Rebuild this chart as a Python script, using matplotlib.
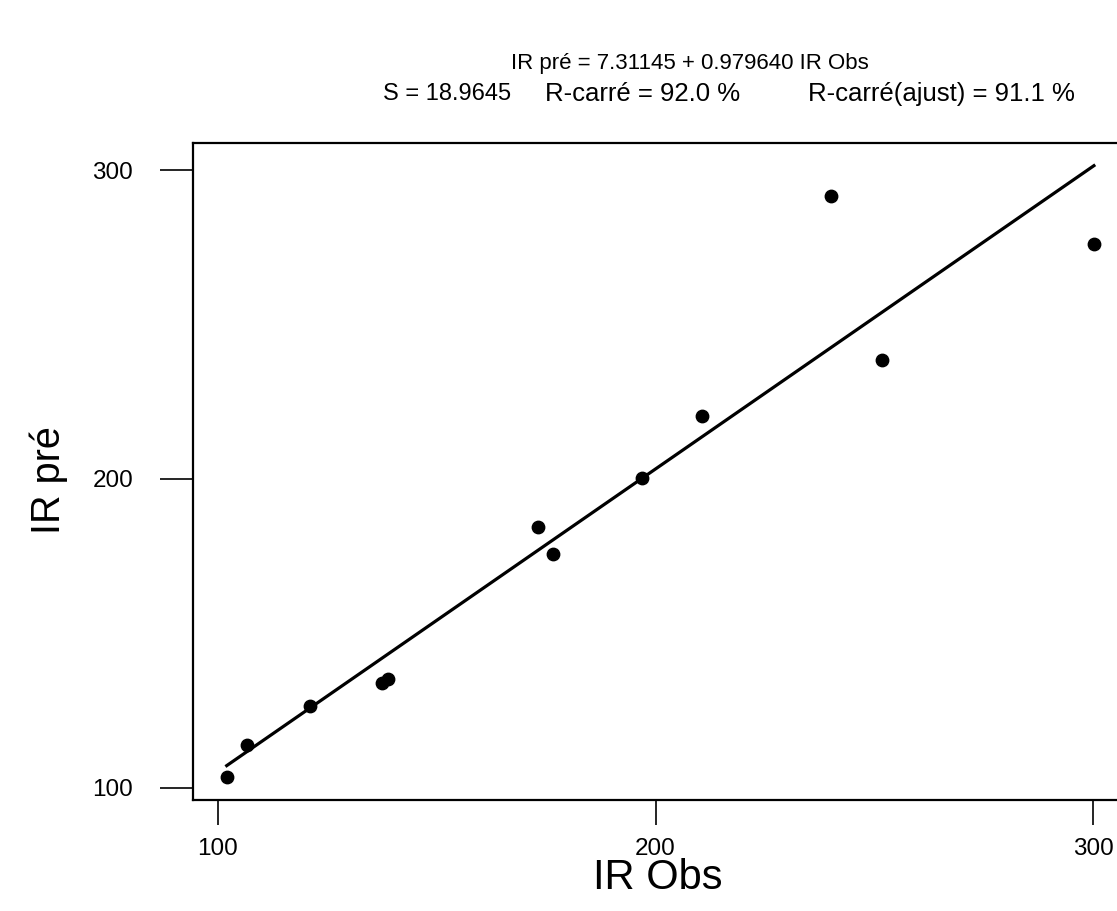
import numpy as np
import matplotlib
matplotlib.use('Agg')
import matplotlib.pyplot as plt

plt.rcParams['font.family'] = ['Liberation Sans', 'DejaVu Sans']

ir_obs = [102.0, 106.6, 121.0, 137.4, 138.9, 173.2, 176.6, 196.8, 210.7, 240.0, 251.8, 300.2]
ir_pre = [103.7, 113.9, 126.5, 133.9, 135.2, 184.6, 175.7, 200.2, 220.4, 291.7, 238.5, 276.0]

# regression summary printed above the plot
intercept = 7.31145
slope = 0.979640
s_value = 18.9645
r_sq = 92.0
r_sq_adj = 91.1

x_ticks = [100, 200, 300]
y_ticks = [100, 200, 300]

fig = plt.figure(figsize=(11.17, 9.11), dpi=100)
fig.set_facecolor('white')

# axes box: right spine sits just past the figure edge, like the original
ax = fig.add_axes([0.1728, 0.1218, 0.832, 0.7211])

ax.scatter(ir_obs, ir_pre, s=80, color='black', zorder=3)

x_fit = np.array([min(ir_obs), max(ir_obs)])
ax.plot(x_fit, intercept + slope * x_fit, color='black', lw=2.3)

ax.set_xlim(94.3, 306.7)
ax.set_ylim(96.1, 308.7)
ax.set_xticks(x_ticks)
ax.set_yticks(y_ticks)
ax.tick_params(axis='x', direction='out', length=18, width=1.2, pad=9, labelsize=17.5)
ax.tick_params(axis='y', direction='out', length=24, width=1.2, pad=19, labelsize=17.5)
for sp in ax.spines.values():
    sp.set_linewidth(1.6)

ax.set_xlabel('IR Obs', fontsize=30, labelpad=-1)
ax.set_ylabel('IR pré', fontsize=28.5)
ax.yaxis.set_label_coords(-0.134, 0.487)

# header text
fig.text(0.618, 0.930, f'IR pré = {intercept:.5f} + {slope:.6f} IR Obs',
         ha='center', va='center', fontsize=16)
fig.text(0.343, 0.897, f'S = {s_value}', ha='left', va='center', fontsize=17)
fig.text(0.488, 0.897, f'R-carré = {r_sq:.1f} %', ha='left', va='center', fontsize=18.5)
fig.text(0.9625, 0.897, f'R-carré(ajust) = {r_sq_adj:.1f} %', ha='right', va='center', fontsize=18.5)

fig.savefig('out.png', dpi=100)
